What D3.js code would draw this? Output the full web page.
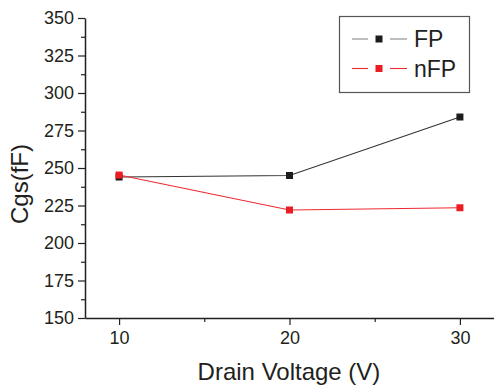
<!DOCTYPE html>
<html>
<head>
<meta charset="utf-8">
<script src="https://cdn.jsdelivr.net/npm/d3@7"></script>
<style>
  body { margin: 0; background: #fff; }
  svg { display: block; font-family: Arial, "Liberation Sans", sans-serif; }
</style>
</head>
<body>
<div id="chart"></div>
<script>
// data
const voltages = [10, 20, 30];
const fpValues = [244, 245, 284];
const nfpValues = [245.3, 222, 223.5];
const yTicks = [150, 175, 200, 225, 250, 275, 300, 325, 350];
const xTicks = [10, 20, 30];
const seriesNames = ["FP", "nFP"];

const width = 494, height = 388;
const margin = {top: 18, right: 0, bottom: 70, left: 85};
const ink = "#231f20";
const colors = {FP: "#1c1c1c", nFP: "#ed1c24"};
const lineColors = {FP: "#333", nFP: "#ee2a30"};

const svg = d3.select("#chart").append("svg")
    .attr("width", width)
    .attr("height", height);

const x = d3.scaleLinear().domain([8, 32]).range([margin.left, width - margin.right]);
const y = d3.scaleLinear().domain([150, 350]).range([height - margin.bottom, margin.top]);

// minor ticks first so the major ones draw on top
svg.append("g")
    .attr("transform", "translate(" + margin.left + ",0)")
    .call(d3.axisLeft(y).tickValues(d3.range(162.5, 350, 25)).tickSize(4).tickFormat(""))
    .call(g => g.select(".domain").remove())
    .call(g => g.selectAll("line").attr("stroke", ink).attr("stroke-width", 1.2));

svg.append("g")
    .attr("transform", "translate(0," + (height - margin.bottom) + ")")
    .call(d3.axisBottom(x).tickValues([15, 25]).tickSize(4).tickFormat(""))
    .call(g => g.select(".domain").remove())
    .call(g => g.selectAll("line").attr("stroke", ink).attr("stroke-width", 1.2));

// major axes
const yAxis = svg.append("g")
    .attr("transform", "translate(" + margin.left + ",0)")
    .call(d3.axisLeft(y).tickValues(yTicks).tickSize(7).tickPadding(4).tickSizeOuter(0));

const xAxis = svg.append("g")
    .attr("transform", "translate(0," + (height - margin.bottom) + ")")
    .call(d3.axisBottom(x).tickValues(xTicks).tickSize(7).tickPadding(6).tickSizeOuter(0));

[yAxis, xAxis].forEach(g => {
  g.select(".domain").attr("stroke", ink).attr("stroke-width", 1.5);
  g.selectAll("line").attr("stroke", ink).attr("stroke-width", 1.2);
  g.selectAll("text").attr("fill", ink).style("font-size", "18px");
});

// axis titles
svg.append("text")
    .attr("x", 289)
    .attr("y", 380)
    .attr("text-anchor", "middle")
    .attr("fill", ink)
    .style("font-size", "24px")
    .text("Drain Voltage (V)");

svg.append("text")
    .attr("transform", "translate(28,184) rotate(-90)")
    .attr("text-anchor", "middle")
    .attr("fill", ink)
    .style("font-size", "24px")
    .text("Cgs(fF)");

// series
const series = [
  {name: "FP", values: fpValues},
  {name: "nFP", values: nfpValues}
];

const line = d3.line()
    .x((d, i) => x(voltages[i]))
    .y(d => y(d));

const ms = 7;
series.forEach(s => {
  svg.append("path")
      .datum(s.values)
      .attr("fill", "none")
      .attr("stroke", lineColors[s.name])
      .attr("stroke-width", 1.1)
      .attr("d", line);

  svg.selectAll(null)
      .data(s.values).enter()
      .append("rect")
      .attr("x", (d, i) => x(voltages[i]) - ms / 2)
      .attr("y", d => y(d) - ms / 2)
      .attr("width", ms)
      .attr("height", ms)
      .attr("fill", colors[s.name]);
});

// legend
const legend = svg.append("g");
legend.append("rect")
    .attr("x", 339.5)
    .attr("y", 16.5)
    .attr("width", 130)
    .attr("height", 76)
    .attr("fill", "#fff")
    .attr("stroke", "#555")
    .attr("stroke-width", 1.2);

seriesNames.forEach((name, i) => {
  const ly = 39 + i * 29.5;
  const row = legend.append("g");
  row.append("line")
      .attr("x1", 352).attr("x2", 368)
      .attr("y1", ly).attr("y2", ly)
      .attr("stroke", name === "FP" ? "#888" : lineColors[name])
      .attr("stroke-width", 1.1);
  row.append("line")
      .attr("x1", 390).attr("x2", 407)
      .attr("y1", ly).attr("y2", ly)
      .attr("stroke", name === "FP" ? "#888" : lineColors[name])
      .attr("stroke-width", 1.1);
  row.append("rect")
      .attr("x", 379 - ms / 2)
      .attr("y", ly - ms / 2)
      .attr("width", ms)
      .attr("height", ms)
      .attr("fill", colors[name]);
  row.append("text")
      .attr("x", 414)
      .attr("y", ly + 8)
      .attr("fill", ink)
      .style("font-size", "23px")
      .text(name);
});
</script>
</body>
</html>
